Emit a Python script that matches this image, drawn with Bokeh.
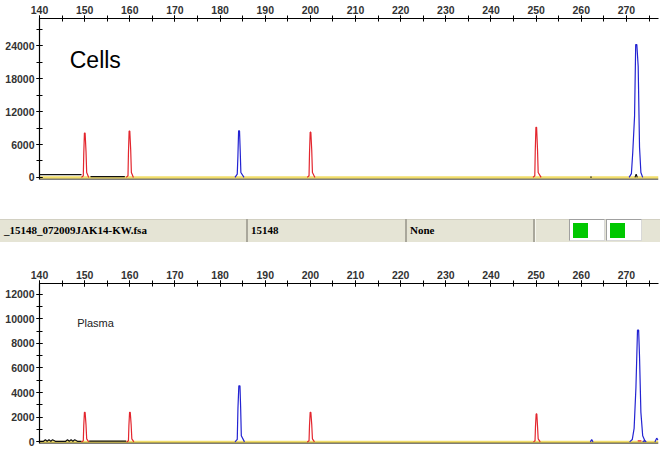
from bokeh.plotting import figure
from bokeh.layouts import column
from bokeh.models import Range1d, SingleIntervalTicker, Span, Div
from bokeh.core.properties import value
from bokeh.embed import file_html
from bokeh.resources import INLINE

# ---------------- data ----------------
x_start, x_end = 140, 277.1

# Cells panel
cells_y_start, cells_y_end = -380, 29000
cells_red_xs = [
    [149.3, 149.7, 149.8, 149.95, 150.1, 150.3, 150.45, 150.9],
    [159.2, 159.6, 159.7, 159.85, 160.0, 160.2, 160.35, 160.8],
    [199.3, 199.7, 199.8, 199.95, 200.1, 200.3, 200.45, 201.0],
    [249.3, 249.7, 249.8, 249.95, 250.1, 250.3, 250.45, 251.1],
]
cells_red_ys = [
    [0, 300, 4200, 8100, 8100, 4800, 900, 0],
    [0, 300, 4400, 8450, 8450, 5000, 900, 0],
    [0, 300, 4300, 8250, 8250, 4900, 900, 0],
    [0, 300, 4700, 9150, 9150, 5200, 900, 0],
]
cells_blue_xs = [
    [183.3, 183.8, 183.95, 184.1, 184.3, 184.45, 184.6, 185.3],
    [270.6, 271.1, 271.4, 271.8, 272.05, 272.3, 272.6, 272.9, 273.2, 273.6],
]
cells_blue_ys = [
    [0, 600, 4000, 8500, 8500, 5000, 900, 0],
    [0, 700, 4600, 11200, 24250, 24250, 20300, 5500, 900, 0],
]
cells_black_xs = [[140, 149.3], [151.3, 158.9], [271.9, 272.15, 272.4], [262.0, 262.3]]
cells_black_ys = [[500, 500], [130, 130], [0, 600, 0], [60, 60]]

# Plasma panel
plasma_y_start, plasma_y_end = -130, 12860
plasma_red_xs = [
    [149.3, 149.7, 149.8, 149.95, 150.1, 150.3, 150.45, 150.9],
    [159.3, 159.7, 159.8, 159.95, 160.1, 160.3, 160.45, 160.9],
    [199.3, 199.7, 199.8, 199.95, 200.1, 200.3, 200.45, 200.9],
    [249.4, 249.75, 249.85, 250.0, 250.15, 250.3, 250.45, 250.9],
    [272.5, 273.3],
]
plasma_red_ys = [
    [0, 100, 1300, 2400, 2400, 1400, 250, 0],
    [0, 100, 1300, 2400, 2400, 1400, 250, 0],
    [0, 100, 1300, 2400, 2400, 1400, 250, 0],
    [0, 100, 1200, 2270, 2270, 1300, 250, 0],
    [80, 80],
]
plasma_blue_xs = [
    [183.3, 183.8, 183.95, 184.15, 184.4, 184.55, 184.7, 185.4],
    [270.7, 271.3, 271.7, 272.1, 272.45, 272.7, 272.9, 273.2, 273.6, 274.2],
    [262.0, 262.3, 262.6],
    [273.6, 274.0, 274.4],
    [276.3, 276.7, 277.0],
]
plasma_blue_ys = [
    [0, 200, 2700, 4550, 4550, 2800, 500, 0],
    [0, 200, 1100, 4400, 9080, 9080, 6900, 2400, 500, 0],
    [0, 180, 0],
    [0, 120, 0],
    [0, 300, 150],
]
plasma_black_xs = [
    [140, 140.9, 141.3, 141.7, 142.1, 142.5, 142.9, 143.5, 145.8, 146.2, 146.6,
     147.0, 147.4, 147.8, 148.4, 149.3],
    [151.0, 159.2],
]
plasma_black_ys = [
    [50, 50, 170, 50, 170, 50, 170, 50, 50, 170, 50, 170, 50, 170, 50, 50],
    [60, 60],
]

# Info strip: texts and cell edges (in strip pixels)
strip_texts = ["_15148_072009JAK14-KW.fsa", "15148", "None"]
strip_cell_edges = [0, 248, 407, 535, 569]
strip_box_left = [569, 606]
strip_box_width = 36

RED = "#E3262E"
BLUE = "#2323D2"
YELLOW = "#F2DE6A"
FONT = "Liberation Sans"
W = 660


def panel(height, y_start, y_end, y_interval, min_top, min_bottom,
          red_xs, red_ys, blue_xs, blue_ys, black_xs, black_ys):
    p = figure(width=W, height=height,
               x_range=Range1d(x_start, x_end), y_range=Range1d(y_start, y_end),
               x_axis_location="above", output_backend="svg", toolbar_location=None,
               min_border_left=39, min_border_right=2,
               min_border_top=min_top, min_border_bottom=min_bottom)
    p.outline_line_color = None
    p.grid.visible = False
    p.xaxis.ticker = SingleIntervalTicker(interval=10, num_minor_ticks=2)
    p.yaxis.ticker = SingleIntervalTicker(interval=y_interval, num_minor_ticks=2)
    for ax in (p.xaxis[0], p.yaxis[0]):
        ax.axis_line_color = "black"
        ax.axis_line_width = 1.2
        ax.major_tick_line_color = "black"
        ax.minor_tick_line_color = "black"
        ax.major_tick_in = 3
        ax.major_tick_out = 3
        ax.minor_tick_in = 3
        ax.minor_tick_out = 3
        ax.major_label_text_font = FONT
        ax.major_label_text_font_size = "10.5px"
        ax.major_label_text_font_style = "bold"
        ax.major_label_text_color = "#333333"
        ax.major_label_standoff = 2
    p.yaxis[0].formatter.use_scientific = False
    p.add_layout(Span(location=y_start, dimension="width",
                      line_color="black", line_width=1.5))
    p.line([x_start, x_end], [0, 0], line_color=YELLOW, line_width=2.5)
    p.multi_line(black_xs, black_ys, line_color="#111111", line_width=1.2)
    p.multi_line(red_xs, red_ys, line_color=RED, line_width=1.2)
    p.multi_line(blue_xs, blue_ys, line_color=BLUE, line_width=1.2)
    return p


top = panel(200, cells_y_start, cells_y_end, 6000, 18, 21,
            cells_red_xs, cells_red_ys, cells_blue_xs, cells_blue_ys,
            cells_black_xs, cells_black_ys)
top.text(x=[146.7], y=[21380], text=["Cells"], text_font=value(FONT),
         text_font_size="23px", text_color="black", text_baseline="alphabetic")

bottom = panel(186, plasma_y_start, plasma_y_end, 2000, 21, 5,
               plasma_red_xs, plasma_red_ys, plasma_blue_xs, plasma_blue_ys,
               plasma_black_xs, plasma_black_ys)
bottom.text(x=[148.35], y=[9672], text=["Plasma"], text_font=value(FONT),
            text_font_size="11px", text_color="#222222", text_baseline="alphabetic")

# Info strip as HTML
parts = []
bar_top, bar_h = 19, 23
parts.append(
    f'<div style="position:absolute;left:0;top:{bar_top}px;width:{W}px;height:{bar_h}px;'
    'background:#E5E4D5;border-top:1px solid #D2D0C2;box-sizing:border-box;"></div>')
for i, txt in enumerate(strip_texts):
    left = strip_cell_edges[i]
    w = strip_cell_edges[i + 1] - left
    parts.append(
        f'<div style="position:absolute;left:{left}px;top:{bar_top}px;width:{w}px;height:{bar_h}px;'
        'box-sizing:border-box;border-right:2px solid #A9A79B;'
        f'padding-left:{3 if i else 4}px;line-height:{bar_h}px;white-space:nowrap;'
        'font-family:\'Liberation Serif\';font-weight:bold;font-size:11px;color:#000;">'
        f'{txt}</div>')
left = strip_cell_edges[3]
parts.append(
    f'<div style="position:absolute;left:{left}px;top:{bar_top}px;'
    f'width:{strip_cell_edges[4] - left}px;height:{bar_h}px;box-sizing:border-box;'
    'border-left:1px solid #F6F6EE;"></div>')
for bl in strip_box_left:
    parts.append(
        f'<div style="position:absolute;left:{bl}px;top:{bar_top}px;width:{strip_box_width}px;'
        f'height:{bar_h - 1}px;background:#FFFFFF;box-sizing:border-box;'
        'border:1px solid #A0A0A0;border-right-color:#D8D8D8;border-bottom-color:#D8D8D8;"></div>')
    parts.append(
        f'<div style="position:absolute;left:{bl + 4}px;top:{bar_top + 4}px;width:15px;'
        'height:15px;background:#00C800;"></div>')
strip = Div(text=f'<div style="position:relative;width:{W}px;height:62px;overflow:hidden;">'
            + "".join(parts) + '</div>',
            width=W, height=62, margin=(0, 0, 0, 0))

layout = column(top, strip, bottom, spacing=0)
open("out.html", "w").write(file_html(layout, INLINE))
